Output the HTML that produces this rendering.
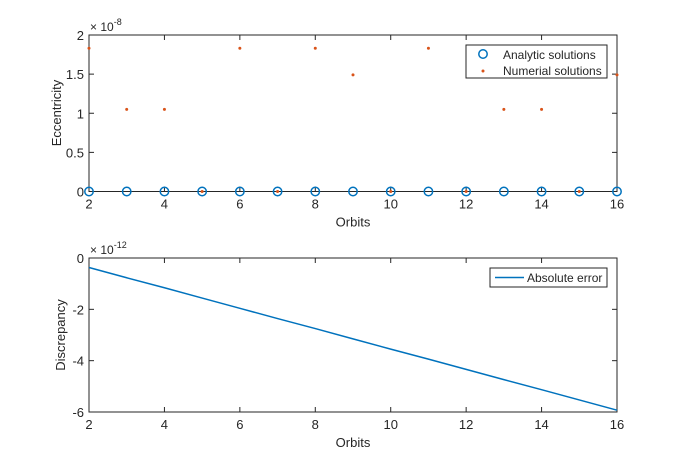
<!DOCTYPE html>
<html><head><meta charset="utf-8"><style>
body{margin:0;background:#fff}
svg text{font-family:"Liberation Sans",sans-serif;fill:#262626}
</style></head><body>
<svg id="c" width="682" height="470" xmlns="http://www.w3.org/2000/svg"></svg>
<script>
const orbits=[2,3,4,5,6,7,8,9,10,11,12,13,14,15,16];
const analytic=[0,0,0,0,0,0,0,0,0,0,0,0,0,0,0];
const numerical=[1.83,1.05,1.05,0,1.83,0,1.83,1.49,0,1.83,0,1.05,1.05,0,1.49];
const absErr=[-0.37,-0.77,-1.16,-1.56,-1.96,-2.36,-2.75,-3.15,-3.55,-3.94,-4.34,-4.74,-5.13,-5.53,-5.93];
const xTicks=[2,4,6,8,10,12,14,16];
const yTicksTop=[0,0.5,1,1.5,2];
const yTicksBot=[-6,-4,-2,0];
const NS="http://www.w3.org/2000/svg",svg=document.getElementById('c');
function mk(t,a,p){const e=document.createElementNS(NS,t);for(const k in a)e.setAttribute(k,a[k]);(p||svg).appendChild(e);return e;}
const L=89,R=617;
const xs=v=>L+(v-2)/14*(R-L);
function axes(top,bot,ymin,ymax,yt,name){
  const ys=v=>bot-(v-ymin)/(ymax-ymin)*(bot-top);
  const g=mk('g',{});
  
  
  mk('rect',{x:L,y:top,width:R-L,height:bot-top,fill:'#fff',stroke:'#262626','stroke-width':1},g);
  xTicks.forEach(t=>{const x=xs(t);
    mk('line',{x1:x,x2:x,y1:bot,y2:bot-5,stroke:'#262626'},g);
    mk('line',{x1:x,x2:x,y1:top,y2:top+5,stroke:'#262626'},g);
    const tx=mk('text',{x:x,y:bot+17,'font-size':13,'text-anchor':'middle'},g);tx.textContent=t;
    });
  yt.forEach(t=>{const y=ys(t);
    mk('line',{x1:L,x2:L+5,y1:y,y2:y,stroke:'#262626'},g);
    mk('line',{x1:R,x2:R-5,y1:y,y2:y,stroke:'#262626'},g);
    const tx=mk('text',{x:L-5,y:y+5,'font-size':13,'text-anchor':'end'},g);tx.textContent=t;
    });
  const xl=mk('text',{x:(L+R)/2,y:bot+35,'font-size':13,'text-anchor':'middle'},g);xl.textContent='Orbits';
  
  return {ys,g};
}
const A=axes(35,191.5,0,2,yTicksTop,'eccentricity');
let t=mk('text',{x:90,y:31,'font-size':12});t.innerHTML='× 10<tspan dy="-6" font-size="9">-8</tspan>';

t=mk('text',{x:0,y:0,'font-size':13,'text-anchor':'middle',transform:'translate(61,113) rotate(-90)'});t.textContent='Eccentricity';

orbits.forEach((o,i)=>{const c=mk('circle',{cx:xs(o),cy:A.ys(analytic[i]),r:4.2,fill:'none',stroke:'#0072BD','stroke-width':1.5});
  });
orbits.forEach((o,i)=>{const c=mk('circle',{cx:xs(o),cy:A.ys(numerical[i]),r:1.5,fill:'#D95319'});
  });
let lg=mk('g',{});
mk('rect',{x:466,y:45,width:141,height:33,fill:'#fff',stroke:'#262626'},lg);
mk('circle',{cx:483,cy:54,r:4.2,fill:'none',stroke:'#0072BD','stroke-width':1.5},lg);
mk('circle',{cx:483,cy:71,r:1.5,fill:'#D95319'},lg);
t=mk('text',{x:503,y:59,'font-size':12},lg);t.textContent='Analytic solutions';
t=mk('text',{x:503,y:75,'font-size':12},lg);t.textContent='Numerial solutions';
const B=axes(258,412,-6,0,yTicksBot,'discrepancy');
t=mk('text',{x:90,y:254,'font-size':12});t.innerHTML='× 10<tspan dy="-6" font-size="9">-12</tspan>';

t=mk('text',{x:0,y:0,'font-size':13,'text-anchor':'middle',transform:'translate(65,335) rotate(-90)'});t.textContent='Discrepancy';

const pl=mk('polyline',{points:orbits.map((o,i)=>xs(o)+','+B.ys(absErr[i])).join(' '),fill:'none',stroke:'#0072BD','stroke-width':1.5});

lg=mk('g',{});
mk('rect',{x:490,y:268,width:117,height:19,fill:'#fff',stroke:'#262626'},lg);
mk('line',{x1:495,x2:524,y1:277.5,y2:277.5,stroke:'#0072BD','stroke-width':1.5},lg);
t=mk('text',{x:527,y:282,'font-size':12},lg);t.textContent='Absolute error';
</script>
</body></html>
